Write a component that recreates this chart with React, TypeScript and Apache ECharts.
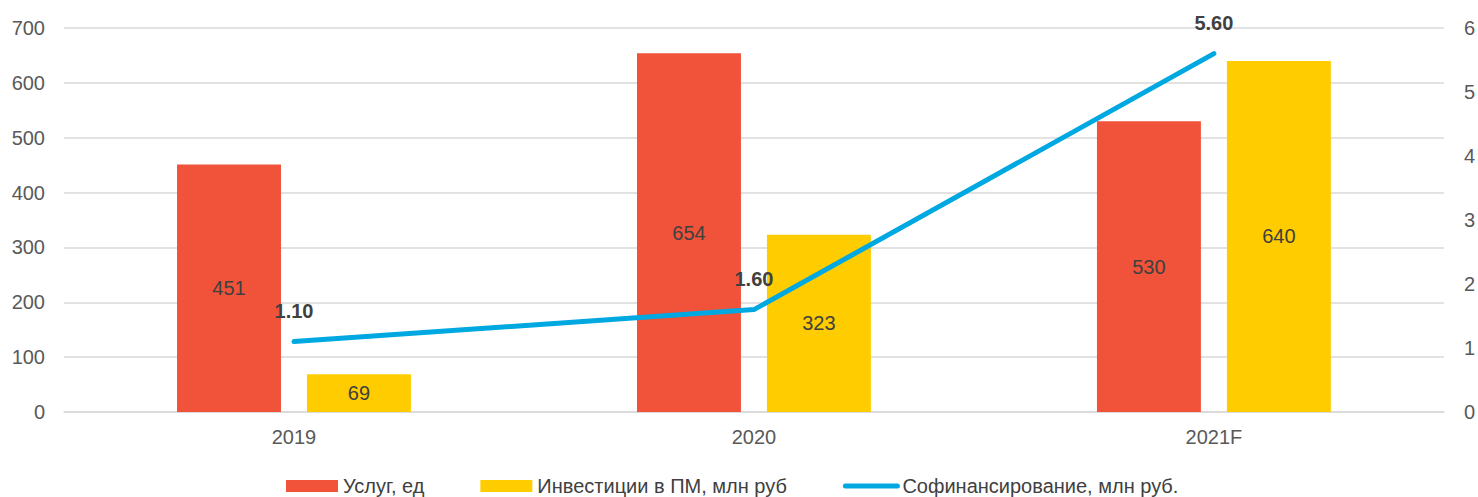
import React, { useEffect, useRef } from "react";
import * as echarts from "echarts";

const categories = ["2019", "2020", "2021F"];
const services = [451, 654, 530];
const investments = [69, 323, 640];
const cofinancing = [1.1, 1.6, 5.6];
const seriesNames = ["Услуг, ед", "Инвестиции в ПМ, млн руб", "Софинансирование, млн руб."];

export default function App() {
  const ref = useRef<HTMLDivElement>(null);
  useEffect(() => {
    document.body.style.margin = "0";
    if (!ref.current) return;
    const chart = echarts.init(ref.current, undefined, { renderer: "svg" });
    const font = "'Liberation Sans', Arial, sans-serif";
    const labelColor = "#404040";
    chart.setOption({
      animation: false,
      textStyle: { fontFamily: font },
      grid: { left: 64, right: 33, top: 28, bottom: 85 },
      legend: {
        top: 476,
        left: 286,
        padding: 0,
        itemWidth: 52,
        itemHeight: 12,
        itemGap: 56,
        textStyle: { fontSize: 20, color: labelColor, fontFamily: font },
        data: [
          { name: seriesNames[0], icon: "rect" },
          { name: seriesNames[1], icon: "rect" },
          {
            name: seriesNames[2],
            itemStyle: { opacity: 0 },
            lineStyle: { width: 5, cap: "round", color: "#00A8E1" },
          },
        ],
      },
      xAxis: {
        type: "category",
        data: categories,
        axisLine: { show: true, lineStyle: { color: "#D9D9D9", width: 1.5 } },
        axisTick: { show: false },
        axisLabel: { fontSize: 20, color: "#595959", margin: 15, fontFamily: font },
      },
      yAxis: [
        {
          type: "value",
          min: 0,
          max: 700,
          interval: 100,
          axisLine: { show: false },
          axisTick: { show: false },
          axisLabel: { fontSize: 20, color: "#595959", margin: 19, fontFamily: font },
          splitLine: { lineStyle: { color: "#D9D9D9", width: 1.5 } },
        },
        {
          type: "value",
          min: 0,
          max: 6,
          interval: 1,
          axisLine: { show: false },
          axisTick: { show: false },
          axisLabel: { fontSize: 20, color: "#595959", margin: 20, fontFamily: font },
          splitLine: { show: false },
        },
      ],
      series: [
        {
          name: seriesNames[0],
          type: "bar",
          data: services,
          barWidth: "22.6%",
          barGap: "25%",
          itemStyle: { color: "#F0533A" },
          label: { show: true, position: "inside", fontSize: 20, color: labelColor, fontFamily: font },
        },
        {
          name: seriesNames[1],
          type: "bar",
          data: investments,
          barWidth: "22.6%",
          barGap: "25%",
          itemStyle: { color: "#FFCC00" },
          label: { show: true, position: "inside", fontSize: 20, color: labelColor, fontFamily: font },
        },
        {
          name: seriesNames[2],
          type: "line",
          yAxisIndex: 1,
          data: cofinancing,
          symbol: "circle",
          symbolSize: 1,
          showSymbol: true,
          lineStyle: { color: "#00A8E1", width: 5, cap: "round" },
          itemStyle: { color: "#00A8E1" },
          label: {
            show: true,
            position: "top",
            distance: 20,
            fontSize: 20,
            fontWeight: "bold",
            color: labelColor,
            fontFamily: font,
            formatter: (p: any) => Number(p.value).toFixed(2),
          },
        },
      ],
    });
    return () => chart.dispose();
  }, []);
  return <div ref={ref} style={{ width: 1478, height: 497 }} />;
}
